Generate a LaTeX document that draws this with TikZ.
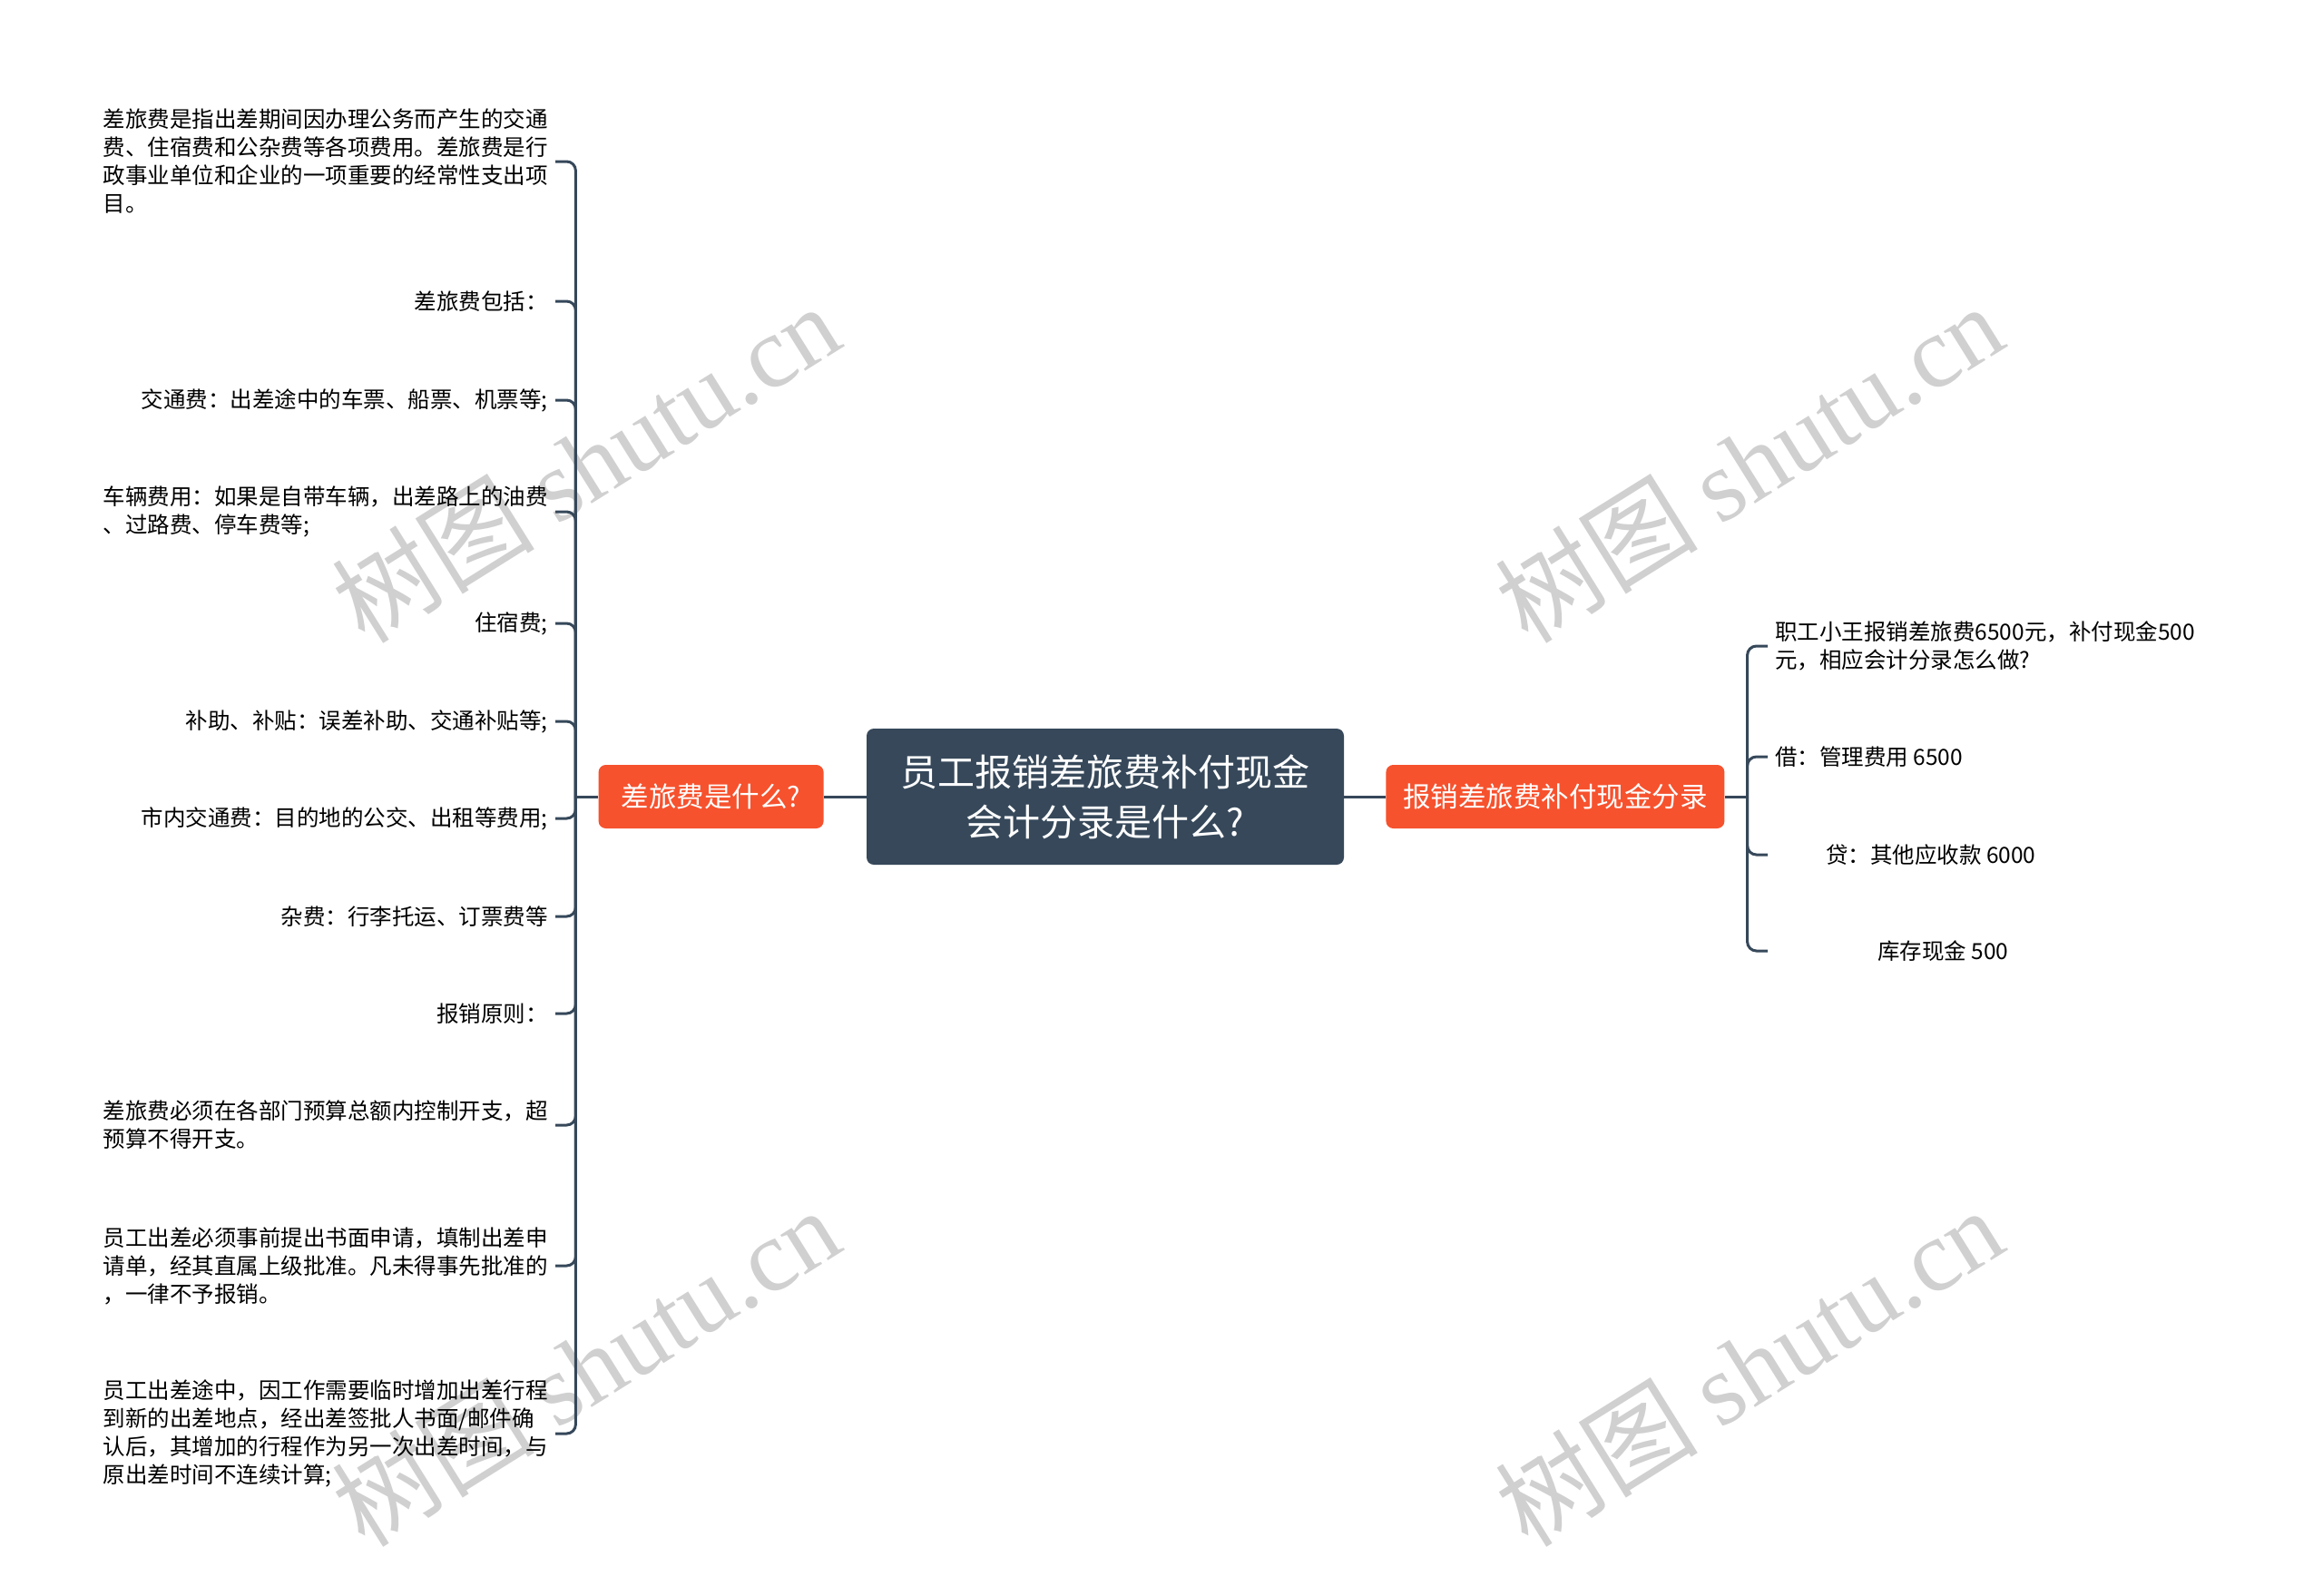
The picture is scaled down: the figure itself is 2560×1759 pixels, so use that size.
\documentclass[tikz,border=0pt]{standalone}
\usepackage{fontspec}
\setmainfont{Noto Sans CJK SC}
\newfontfamily\markserif{Liberation Serif}
\usetikzlibrary{positioning}
\definecolor{rootcol}{RGB}{54,72,90}
\definecolor{topiccol}{RGB}{246,82,46}
\definecolor{markcol}{RGB}{208,208,208}

\begin{document}
\begin{tikzpicture}[x=1pt, y=-1pt,
  every node/.style={font=\fontsize{24.5}{31}\selectfont, inner sep=0pt},
  rootbox/.style={fill=rootcol, text=white, rounded corners=8pt, minimum width=526pt, minimum height=150pt, align=center, font=\fontsize{41}{55}\selectfont},
  topicbox/.style={fill=topiccol, text=white, rounded corners=8pt, minimum height=70pt, font=\fontsize{30.5}{36}\selectfont},
  leafl/.style={anchor=east, align=left, inner xsep=8pt},
  leafr/.style={anchor=west, align=left, inner xsep=8pt},
  branch/.style={draw=rootcol, line width=3pt, rounded corners=10pt},
  wmark/.style={text=markcol, rotate=32, font=\fontsize{112}{112}\selectfont}]
  \useasboundingbox (0,0) rectangle (2560,1759);
  % watermarks
  \foreach \x/\y in {645/510, 1927/510, 645/1506, 1927/1506}
    \node[wmark] at (\x,\y) {树图 {\markserif shutu.cn}};
  % centre and the two topics
  \node[rootbox] (root) at (1218,878) {员工报销差旅费补付现金\\会计分录是什么?};
  \node[topicbox, minimum width=248pt, left=47pt of root] (what) {差旅费是什么?};
  \node[topicbox, minimum width=373pt, right=46pt of root] (entry) {报销差旅费补付现金分录};
  \coordinate[left=25pt of what] (lhub);
  \coordinate[right=25pt of entry] (rhub);
  % left leaves
  \node[leafl] (a1) at (612,178) {差旅费是指出差期间因办理公务而产生的交通\\费、住宿费和公杂费等各项费用。差旅费是行\\政事业单位和企业的一项重要的经常性支出项\\目。};
  \node[leafl] (a2) at (612,332) {差旅费包括：};
  \node[leafl] (a3) at (612,441) {交通费：出差途中的车票、船票、机票等;};
  \node[leafl] (a4) at (612,564) {车辆费用：如果是自带车辆，出差路上的油费\\、过路费、停车费等;};
  \node[leafl] (a5) at (612,687) {住宿费;};
  \node[leafl] (a6) at (612,795) {补助、补贴：误差补助、交通补贴等;};
  \node[leafl] (a7) at (612,902) {市内交通费：目的地的公交、出租等费用;};
  \node[leafl] (a8) at (612,1010) {杂费：行李托运、订票费等};
  \node[leafl] (a9) at (612,1117) {报销原则：};
  \node[leafl] (a10) at (612,1240) {差旅费必须在各部门预算总额内控制开支，超\\预算不得开支。};
  \node[leafl] (a11) at (612,1395) {员工出差必须事前提出书面申请，填制出差申\\请单，经其直属上级批准。凡未得事先批准的\\，一律不予报销。};
  \node[leafl] (a12) at (612,1580) {员工出差途中，因工作需要临时增加出差行程\\到新的出差地点，经出差签批人书面/邮件确\\认后，其增加的行程作为另一次出差时间，与\\原出差时间不连续计算;};
  % right leaves
  \node[leafr] (b1) at (1948,712) {职工小王报销差旅费6500元，补付现金500\\元，相应会计分录怎么做?};
  \node[leafr] (b2) at (1948,834) {借：管理费用 6500};
  \node[leafr] (b3) at (1948,942) {\hspace*{56pt}贷：其他应收款 6000};
  \node[leafr] (b4) at (1948,1048) {\hspace*{113pt}库存现金 500};
  % connectors
  \draw[branch] (root) -- (what);
  \draw[branch] (root) -- (entry);
  \draw[branch] (what) -- (lhub);
  \draw[branch] (entry) -- (rhub);
  \foreach \n in {1,...,12} \draw[branch] (lhub) |- (a\n.east);
  \foreach \n in {1,...,4} \draw[branch] (rhub) |- (b\n.west);
\end{tikzpicture}
\end{document}
